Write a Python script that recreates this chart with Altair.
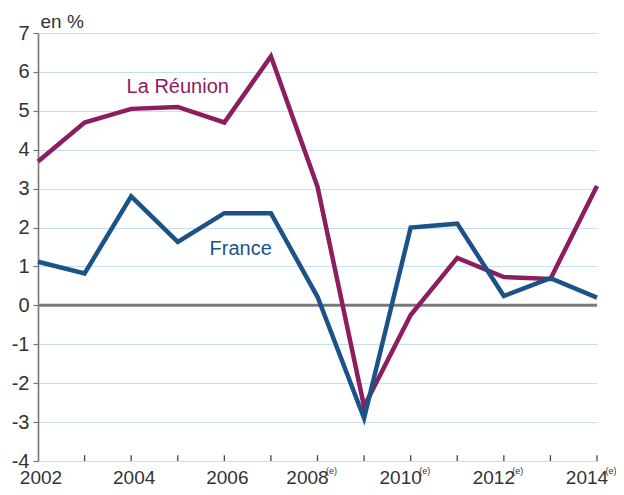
import altair as alt
import pandas as pd

years = list(range(2002, 2015))
reunion = [3.7, 4.7, 5.05, 5.1, 4.7, 6.4, 3.05, -2.6, -0.25, 1.22, 0.73, 0.68, 3.07]
france = [1.12, 0.82, 2.8, 1.63, 2.37, 2.37, 0.22, -2.9, 2.0, 2.1, 0.24, 0.7, 0.2]

series_names = ["La Réunion", "France"]
series_colors = ["#8C1D5E", "#1B5389"]

plain_labels = [2002, 2004, 2006]
est_labels = [2008, 2010, 2012, 2014]
tick_years = list(range(2003, 2015))

label_x = [2005.0, 2006.35]
label_y = [5.6, 1.45]

rows = []
for y, r, f in zip(years, reunion, france):
    rows.append({"year": y, "value": r, "series": "La Réunion"})
    rows.append({"year": y, "value": f, "series": "France"})
df = pd.DataFrame(rows)

xs = alt.Scale(domain=[2002, 2014], nice=False, zero=False)
ys = alt.Scale(domain=[-4, 7], nice=False, zero=False)
cs = alt.Scale(domain=series_names, range=series_colors)
FONT = "Liberation Sans"

YAXIS = alt.Axis(
    values=list(range(-4, 8)), grid=True, gridColor="#C3E0F3", gridWidth=1.2,
    domain=True, domainColor="#777777", domainWidth=1.6,
    ticks=True, tickColor="#777777", tickSize=5, tickWidth=1.2,
    labelExpr="datum.value < 0 ? '-' + abs(datum.value) : datum.label",
    labelPadding=4, labelFontSize=20, labelFont=FONT, labelColor="#333333",
    title="en %", titleAngle=0, titleFont=FONT, titleFontSize=19,
    titleFontWeight="normal", titleColor="#333333",
    titleX=2, titleY=-12, titleAlign="left", titleBaseline="middle")


def X(f):
    return alt.X(f, scale=xs, axis=None)


def Y(f):
    return alt.Y(f, scale=ys, axis=YAXIS)


zero = alt.Chart(pd.DataFrame({"z": [0]})).mark_rule(color="#7a7a7a", strokeWidth=3).encode(
    y=Y("z:Q")
)

ticks = alt.Chart(pd.DataFrame({"year": tick_years, "v": [-4] * len(tick_years),
                                "v2": [-3.85] * len(tick_years)})).mark_rule(
    strokeWidth=1.3, color="#444444"
).encode(x=X("year:Q"), y=Y("v:Q"), y2="v2:Q")

lines = alt.Chart(df).mark_line(strokeWidth=4.5, strokeJoin="miter").encode(
    x=X("year:Q"),
    y=Y("value:Q"),
    color=alt.Color("series:N", scale=cs, legend=None),
)

plain = alt.Chart(pd.DataFrame({"year": plain_labels, "v": [-4] * len(plain_labels),
                                "t": [str(p) for p in plain_labels]})).mark_text(
    font=FONT, fontSize=19, color="#333333", align="center", baseline="middle", dy=17, dx=3
).encode(x=X("year:Q"), y=Y("v:Q"), text="t:N")

est = alt.Chart(pd.DataFrame({"year": est_labels, "v": [-4] * len(est_labels),
                              "t": [str(p) for p in est_labels]})).mark_text(
    font=FONT, fontSize=19, color="#333333", align="center", baseline="middle", dy=17, dx=-10
).encode(x=X("year:Q"), y=Y("v:Q"), text="t:N")

sup = alt.Chart(pd.DataFrame({"year": est_labels, "v": [-4] * len(est_labels),
                              "t": ["(e)"] * len(est_labels)})).mark_text(
    font=FONT, fontSize=9, color="#333333", align="center", baseline="middle", dy=10, dx=14
).encode(x=X("year:Q"), y=Y("v:Q"), text="t:N")

labels = alt.Chart(pd.DataFrame({"series": series_names, "x": label_x, "y": label_y})).mark_text(
    font=FONT, fontSize=20, align="center", baseline="middle"
).encode(
    x=X("x:Q"), y=Y("y:Q"), text="series:N",
    color=alt.Color("series:N", scale=cs, legend=None),
)

chart = alt.layer(zero, ticks, lines, plain, est, sup, labels).properties(
    width=559, height=428,
    autosize=alt.AutoSizeParams(type="none"),
    padding={"left": 30, "top": 25, "right": 19, "bottom": 26},
).configure_view(stroke=None)

chart.save("out.html", embed_options={"renderer": "svg", "actions": False})
